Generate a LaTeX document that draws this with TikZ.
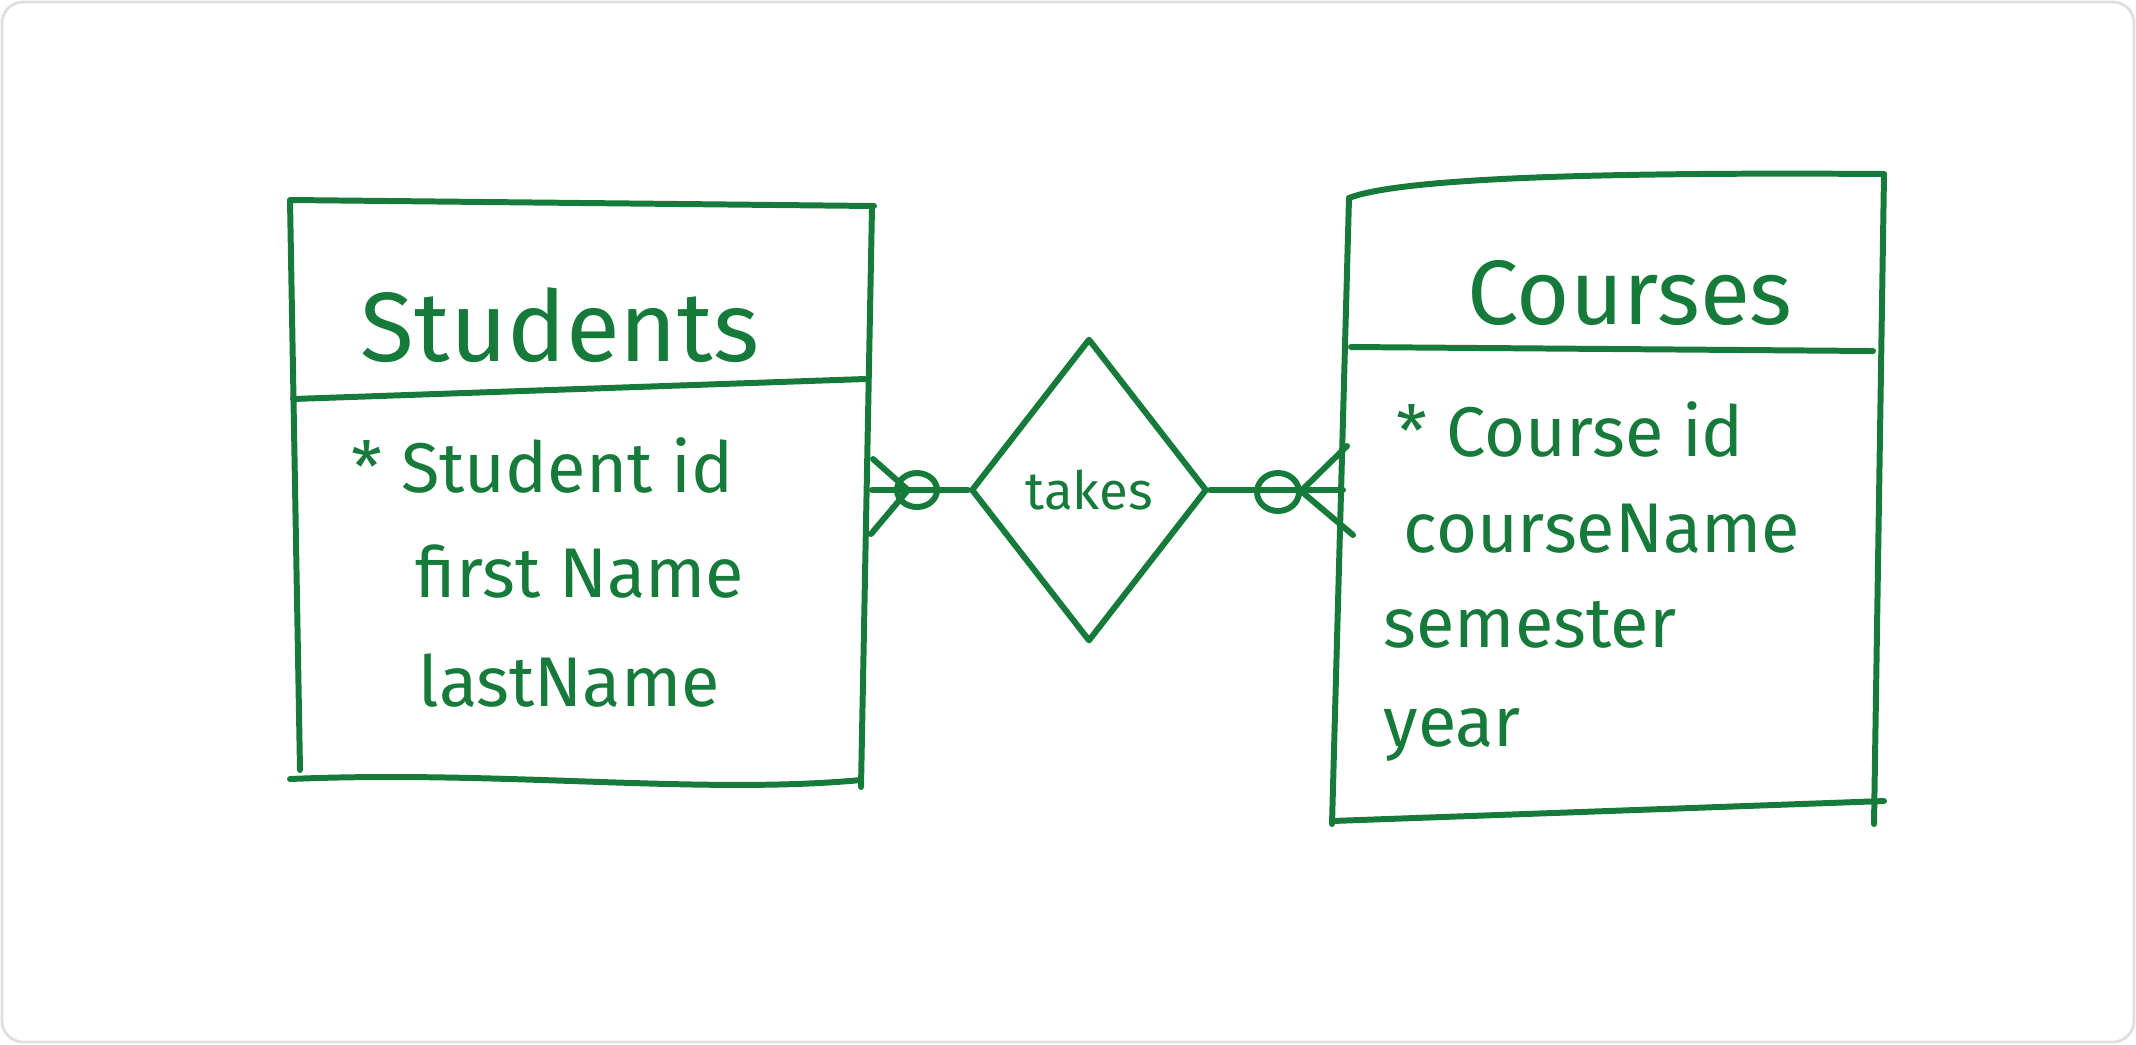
\documentclass[tikz,border=0pt]{standalone}
\usepackage{fontspec}
\setmainfont{Fira Sans}
\usetikzlibrary{shapes.geometric}
\definecolor{inkgreen}{RGB}{22,122,58}
\tikzset{
    ink/.style={draw=inkgreen, line width=1.7pt, line cap=round, line join=round},
    title/.style={text=inkgreen, font=\fontsize{28}{32}\selectfont, anchor=base},
    attr/.style={text=inkgreen, font=\fontsize{20}{24}\selectfont, anchor=base west, inner sep=0pt},
}

\begin{document}
\begin{tikzpicture}[x=0.01cm, y=-0.01cm]% pixel units, y downwards
    \useasboundingbox (0, 0) rectangle (2136, 1044);
    % Frame of the sheet
    \draw[gray!25, line width=0.8pt, rounded corners=6pt] (2, 2) rectangle (2134, 1042);

    % Students box
    \draw[ink] (292, 200) -- (874, 206); % top
    \draw[ink] (290, 200) -- (300, 770); % left
    \draw[ink] (872, 207) -- (861, 787); % right
    \draw[ink] (290, 779) .. controls (500, 770) and (700, 795) .. (861, 780); % bottom
    \draw[ink] (293, 399) -- (865, 379); % divider
    \node[title] (stuTitle) at (560, 361) {Students};
    \node[attr] (stuId) at (351, 492) {* Student id};
    \node[attr] (stuFirst) at (415, 597) {first Name};
    \node[attr] (stuLast) at (418, 706) {lastName};

    % Courses box
    \draw[ink] (1349, 198) .. controls (1400, 178) and (1600, 172) .. (1884, 174); % top
    \draw[ink] (1349, 198) -- (1332, 824); % left
    \draw[ink] (1884, 174) -- (1874, 824); % right
    \draw[ink] (1332, 821) -- (1884, 801); % bottom
    \draw[ink] (1351, 347) -- (1873, 351); % divider
    \node[title, font=\fontsize{26}{30}\selectfont] (crsTitle) at (1630, 324) {Courses};
    \node[attr] (crsId) at (1396, 456) {* Course id};
    \node[attr] (crsName) at (1403, 552) {courseName};
    \node[attr] (crsSem) at (1383, 647) {semester};
    \node[attr] (crsYear) at (1383, 746) {year};

    % Relationship
    \node[ink, diamond, minimum width=2.36cm, minimum height=3.03cm, inner sep=0pt,
          text=inkgreen, font=\fontsize{15}{18}\selectfont] (takes) at (1089, 490) {takes};

    % Connectors with crow's feet and circles
    \coordinate (stuR) at (872, 490);
    \coordinate (stuTip) at (908, 490);
    \coordinate (stuFootA) at (873, 459);
    \coordinate (stuFootB) at (871, 534);
    \draw[ink] (stuR) -- (takes.west);
    \draw[ink] (stuFootA) -- (stuTip) -- (stuFootB);
    \draw[ink] (917, 490) ellipse (20 and 17);

    \coordinate (crsL) at (1343, 490);
    \coordinate (crsTip) at (1301, 491);
    \coordinate (crsFootA) at (1347, 446);
    \coordinate (crsFootB) at (1353, 535);
    \draw[ink] (takes.east) -- (crsL);
    \draw[ink] (crsFootA) -- (crsTip) -- (crsFootB);
    \draw[ink] (1278, 492) ellipse (21 and 19);
\end{tikzpicture}
\end{document}
